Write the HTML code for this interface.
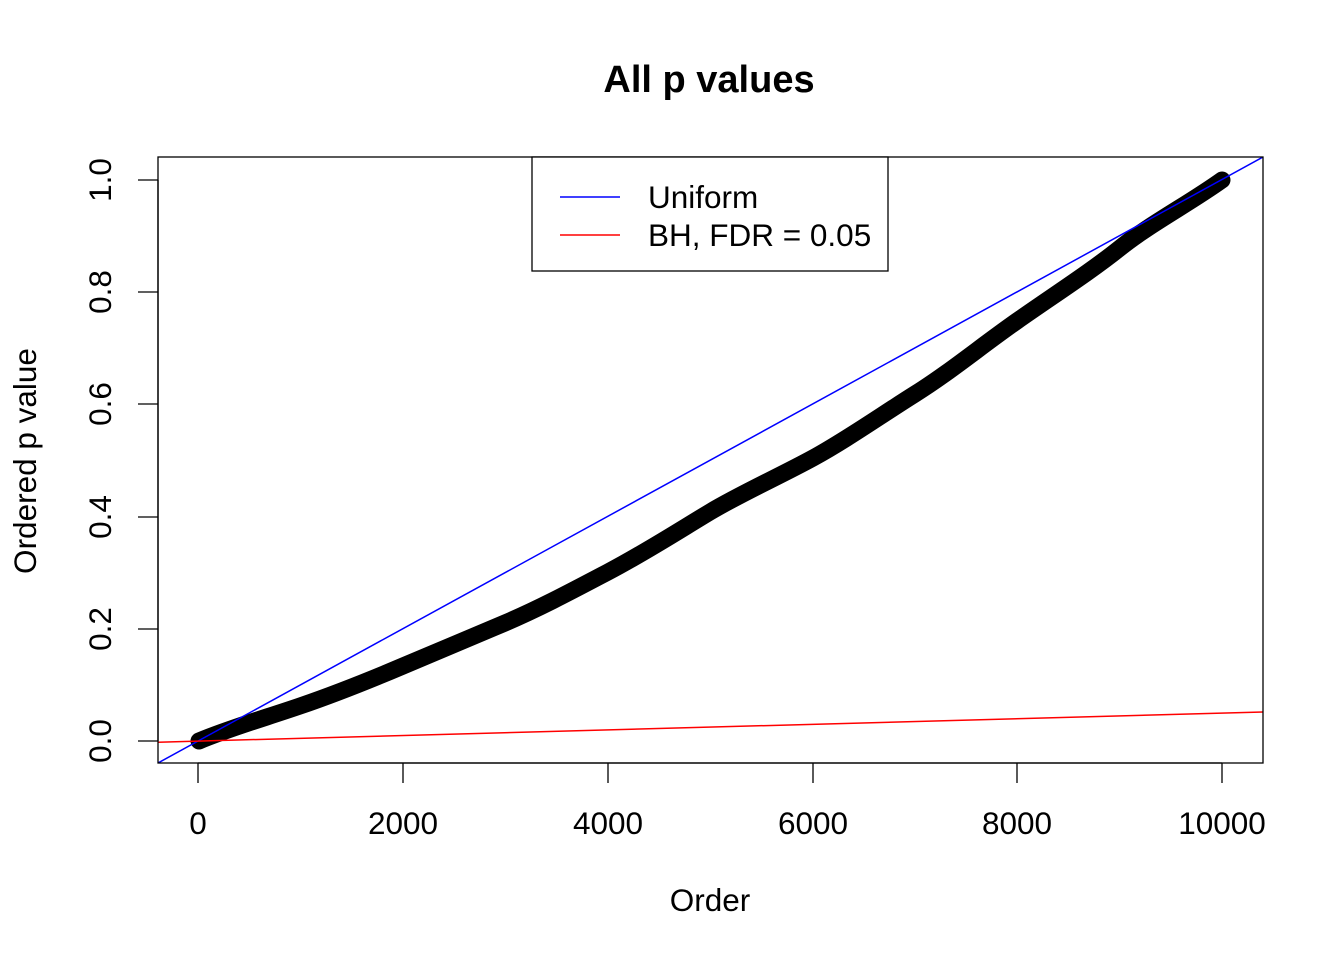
<!DOCTYPE html>
<html><head><style>body{margin:0;background:#fff}svg{display:block}</style></head><body>
<svg width="1344" height="960" xmlns="http://www.w3.org/2000/svg" font-family="Liberation Sans, Arial, sans-serif">
<defs><clipPath id="c"><rect x="158" y="157" width="1105" height="606"/></clipPath></defs>
<g clip-path="url(#c)">
<path fill="none" stroke="#000" stroke-width="17" stroke-linecap="round" stroke-linejoin="round" d="M199,741 C230,728 265,718 300,706 S370,680 403,666 S470,638 505,623 S570,592 608,572 S680,530 710,512 S780,476 813,458 S880,416 915,394 S980,347 1017,321 S1090,272 1120,248 S1190,203 1222,180"/>
<line x1="158" y1="763" x2="1263" y2="157" stroke="#00f" stroke-width="1.5"/>
<line x1="158" y1="742.2" x2="1263" y2="712" stroke="#f00" stroke-width="1.5"/>
</g>
<rect x="158" y="157" width="1105" height="606" fill="none" stroke="#000" stroke-width="1.3"/>
<g stroke="#000" stroke-width="1.3">
<line x1="198" y1="763" x2="1222" y2="763"/>
<line x1="198" y1="763" x2="198" y2="783"/><line x1="403" y1="763" x2="403" y2="783"/><line x1="608" y1="763" x2="608" y2="783"/><line x1="813" y1="763" x2="813" y2="783"/><line x1="1017" y1="763" x2="1017" y2="783"/><line x1="1222" y1="763" x2="1222" y2="783"/>
<line x1="158" y1="180" x2="158" y2="741"/>
<line x1="138" y1="741" x2="158" y2="741"/><line x1="138" y1="629" x2="158" y2="629"/><line x1="138" y1="517" x2="158" y2="517"/><line x1="138" y1="404" x2="158" y2="404"/><line x1="138" y1="292" x2="158" y2="292"/><line x1="138" y1="180" x2="158" y2="180"/>
</g>
<g font-size="31.5" text-anchor="middle">
<text x="198" y="834">0</text><text x="403" y="834">2000</text><text x="608" y="834">4000</text><text x="813" y="834">6000</text><text x="1017" y="834">8000</text><text x="1222" y="834">10000</text>
<text x="710" y="911">Order</text>
<g transform="rotate(-90)">
<text x="-741" y="111">0.0</text><text x="-629" y="111">0.2</text><text x="-517" y="111">0.4</text><text x="-404" y="111">0.6</text><text x="-292" y="111">0.8</text><text x="-180" y="111">1.0</text>
<text x="-461" y="36">Ordered p value</text>
</g>
<text x="709" y="92" font-weight="bold" font-size="38">All p values</text>
</g>
<rect x="532" y="157" width="356" height="114" fill="#fff" stroke="#000" stroke-width="1.3"/>
<line x1="560" y1="197" x2="620" y2="197" stroke="#00f" stroke-width="1.5"/>
<line x1="560" y1="235" x2="620" y2="235" stroke="#f00" stroke-width="1.5"/>
<text x="648" y="208" font-size="31.5">Uniform</text>
<text x="648" y="246" font-size="31.5">BH, FDR = 0.05</text>
</svg>
</body></html>
